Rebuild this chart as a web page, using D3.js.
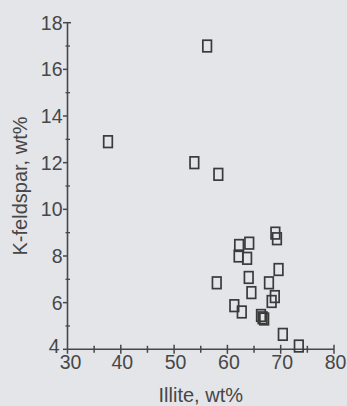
<!DOCTYPE html>
<html>
<head>
<meta charset="utf-8">
<script src="https://cdn.jsdelivr.net/npm/d3@7"></script>
<style>
  html, body { margin: 0; padding: 0; background: #e3e5e9; }
  svg { display: block; }
  text { font-family: "Liberation Sans", Arial, sans-serif; fill: #474747; }
</style>
</head>
<body>
<svg id="chart" width="347" height="406"></svg>
<script>
// Illite vs K-feldspar (wt%)
const illite = [56.2, 37.6, 53.8, 58.3, 58.0, 61.3, 62.7, 62.2, 62.1, 64.1, 63.7, 64.0,
  64.5, 66.3, 66.6, 66.9, 67.8, 68.3, 68.9, 69.6, 69.0, 69.3, 70.4, 73.4];
const kfeldspar = [17.0, 12.9, 12.0, 11.5, 6.85, 5.87, 5.6, 8.45, 8.0, 8.55, 7.9, 7.08,
  6.43, 5.45, 5.35, 5.3, 6.85, 6.05, 6.26, 7.42, 8.98, 8.74, 4.64, 4.14];
const xTicks = [30, 40, 50, 60, 70, 80];
const yTicks = [4, 6, 8, 10, 12, 14, 16, 18];
const xLabel = "Illite, wt%";
const yLabel = "K-feldspar, wt%";

const svg = d3.select("#chart");
const axisColor = "#474747";

const x = d3.scaleLinear().domain([30, 80]).range([67.5, 334]);
const y = d3.scaleLinear().domain([4, 18]).range([349.3, 22.7]);

// x axis
const gx = svg.append("g").attr("transform", `translate(0,${y(4)})`);
gx.append("line").attr("x1", x(30)).attr("x2", x(80))
  .attr("stroke", axisColor).attr("stroke-width", 1.6);
gx.selectAll("line.minor").data(d3.range(35, 80, 10)).join("line")
  .attr("class", "minor")
  .attr("x1", d => x(d)).attr("x2", d => x(d))
  .attr("y1", -3.5).attr("y2", 3.5)
  .attr("stroke", axisColor).attr("stroke-width", 1.5);
gx.selectAll("line.major").data(xTicks).join("line")
  .attr("class", "major")
  .attr("x1", d => x(d)).attr("x2", d => x(d))
  .attr("y1", d => d === 30 ? 0 : -4.5).attr("y2", 4.5)
  .attr("stroke", axisColor).attr("stroke-width", 1.5);
gx.selectAll("text").data(xTicks).join("text")
  .attr("x", d => x(d) + (d === 30 ? 3 : 1.5)).attr("y", 20)
  .attr("text-anchor", "middle")
  .style("font-size", "19.5px")
  .text(d => d);

// y axis
const gy = svg.append("g").attr("transform", `translate(${x(30)},0)`);
gy.append("line").attr("y1", y(4)).attr("y2", y(18))
  .attr("stroke", axisColor).attr("stroke-width", 1.6);
gy.selectAll("line.minor").data(d3.range(5, 18, 2)).join("line")
  .attr("class", "minor")
  .attr("y1", d => y(d)).attr("y2", d => y(d))
  .attr("x1", -2).attr("x2", 2.5)
  .attr("stroke", axisColor).attr("stroke-width", 1.3);
gy.selectAll("line.major").data(yTicks).join("line")
  .attr("class", "major")
  .attr("y1", d => y(d)).attr("y2", d => y(d))
  .attr("x1", -4.5).attr("x2", d => d === 18 ? 3.5 : 0)
  .attr("stroke", axisColor).attr("stroke-width", 1.5);
gy.selectAll("text").data(yTicks).join("text")
  .attr("x", d => d === 4 ? -8 : -5)
  .attr("y", d => y(d) + (d === 4 ? 4 : 7))
  .attr("text-anchor", "end")
  .style("font-size", "19.5px")
  .text(d => d);

// axis titles
svg.append("text")
  .attr("x", (x(30) + x(80)) / 2).attr("y", 402)
  .attr("text-anchor", "middle")
  .style("font-size", "20px")
  .text(xLabel);
svg.append("text")
  .attr("transform", `translate(27,${(y(4) + y(18)) / 2}) rotate(-90)`)
  .attr("text-anchor", "middle")
  .style("font-size", "20px")
  .text(yLabel);

// points
const pts = illite.map((v, i) => ({ x: v, y: kfeldspar[i] }));
svg.append("g").selectAll("rect").data(pts).join("rect")
  .attr("x", d => x(d.x) - 4.3).attr("y", d => y(d.y) - 5.8)
  .attr("width", 8.6).attr("height", 11.6)
  .attr("fill", "none")
  .attr("stroke", "#3a3a3a")
  .attr("stroke-width", 1.7);
</script>
</body>
</html>
